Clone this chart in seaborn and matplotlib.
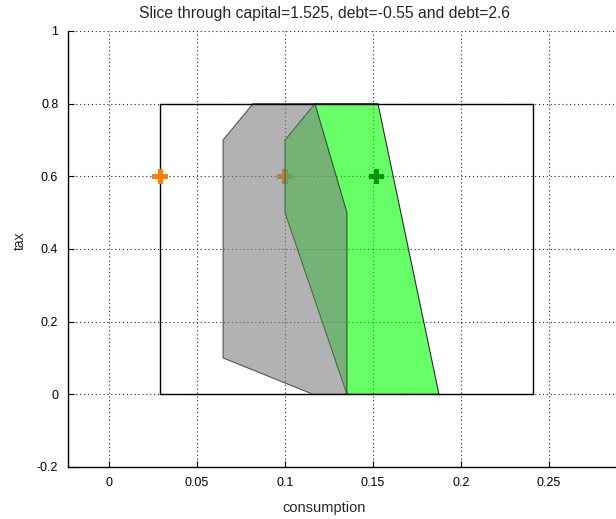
import matplotlib
matplotlib.use("Agg")
import matplotlib.pyplot as plt
import seaborn as sns
import pandas as pd

sns.set_style("white")
plt.rcParams['font.family'] = ['Liberation Sans', 'DejaVu Sans']

# Data
title = "Slice through capital=1.525, debt=-0.55 and debt=2.6"
box_x = [0.029, 0.241, 0.241, 0.029, 0.029]
box_y = [0.0, 0.0, 0.8, 0.8, 0.0]

gray_x = [0.0818, 0.117, 0.1352, 0.1352, 0.1159, 0.0648, 0.0648]
gray_y = [0.8, 0.8, 0.5, 0.0, 0.0, 0.1, 0.7]

green_x = [0.117, 0.1528, 0.1875, 0.1352, 0.1, 0.1]
green_y = [0.8, 0.8, 0.0, 0.0, 0.5, 0.7]

pts_x = [0.029, 0.1, 0.152]
pts_y = [0.6, 0.6, 0.6]
pts_name = ["a", "b", "c"]

xticks = [0, 0.05, 0.1, 0.15, 0.2, 0.25]
xtick_labels = ["0", "0.05", "0.1", "0.15", "0.2", "0.25"]
yticks = [-0.2, 0, 0.2, 0.4, 0.6, 0.8, 1.0]
ytick_labels = ["-0.2", "0", "0.2", "0.4", "0.6", "0.8", "1"]

fig = plt.figure(figsize=(6.16, 5.19), dpi=100)
ax = fig.add_axes([0.1104, 0.1002, 0.9237, 0.8401])

df = pd.DataFrame({"x": pts_x, "y": pts_y, "name": pts_name})

# middle orange marker lies beneath the polygons
sns.scatterplot(data=df.iloc[[1]], x="x", y="y", marker="P", s=120, color="#ff8000",
                edgecolor="none", ax=ax, zorder=2, legend=False)

ax.fill(green_x, green_y, facecolor=(0, 1, 0, 0.6), edgecolor=(0, 0, 0, 0.8),
        linewidth=0.8, zorder=3)
ax.fill(gray_x, gray_y, facecolor=(0.5, 0.5, 0.5, 0.6), edgecolor=(0, 0, 0, 0.6),
        linewidth=0.8, zorder=4)

sns.lineplot(x=box_x, y=box_y, sort=False, estimator=None, color="black",
             linewidth=1.0, ax=ax, zorder=5)

sns.scatterplot(data=df.iloc[[0]], x="x", y="y", marker="P", s=120, color="#ff8000",
                edgecolor="none", ax=ax, zorder=6, legend=False)
sns.scatterplot(data=df.iloc[[2]], x="x", y="y", marker="P", s=120, color="#009a00",
                edgecolor="none", ax=ax, zorder=6, legend=False)

ax.set_xlim(-0.0233, 0.3)
ax.set_ylim(-0.2, 1.0)
ax.set_xticks(xticks)
ax.set_xticklabels(xtick_labels)
ax.set_yticks(yticks)
ax.set_yticklabels(ytick_labels)
ax.grid(True, linestyle=(0, (1, 2.5)), color="black", linewidth=0.8, alpha=0.85)
ax.set_axisbelow(True)
for s in ["top", "right"]:
    ax.spines[s].set_visible(False)
for s in ["left", "bottom"]:
    ax.spines[s].set_color("black")
    ax.spines[s].set_linewidth(1.0)

ax.tick_params(axis="both", direction="in", length=4, width=0.8, colors="black",
               labelsize=9, left=True, bottom=True, pad=7)

xa = (324 - 68) / 569
ax.set_title(title, x=xa, y=1.039, va="center", fontsize=11.3, pad=0)
ax.set_xlabel("consumption", fontsize=10.5)
ax.xaxis.set_label_coords(xa, -0.077)
ax.set_ylabel("tax", fontsize=10)
ax.yaxis.set_label_coords(-0.072, 0.52)

fig.savefig("out.png", dpi=100)
